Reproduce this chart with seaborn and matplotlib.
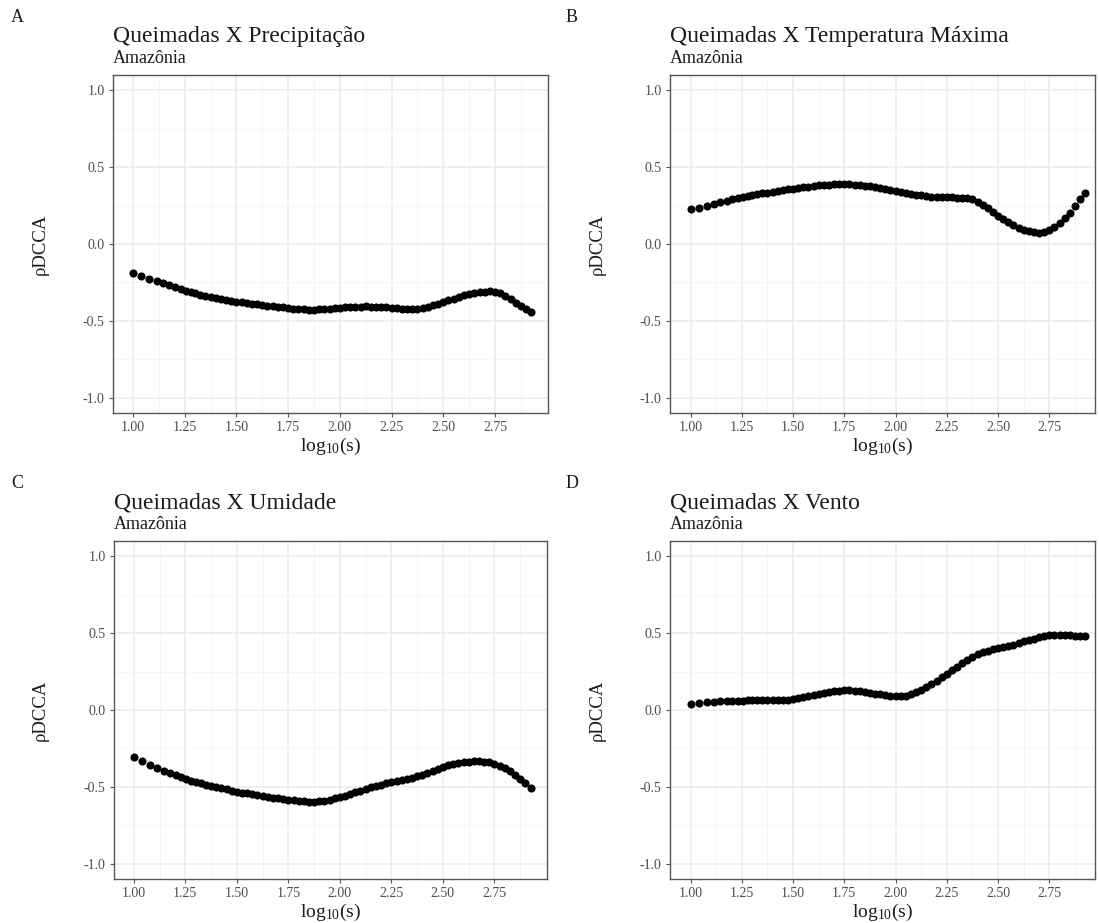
import numpy as np
import pandas as pd
import matplotlib
matplotlib.use("Agg")
import matplotlib.pyplot as plt
import seaborn as sns
from matplotlib.ticker import FixedLocator

# ---------------- data ----------------
LOG_S = [1.000, 1.041, 1.079, 1.114, 1.146, 1.176, 1.204, 1.230, 1.255, 1.279, 1.301,
         1.325, 1.350, 1.375, 1.400, 1.425, 1.450, 1.475, 1.500, 1.525, 1.550, 1.575,
         1.600, 1.625, 1.650, 1.675, 1.700, 1.725, 1.750, 1.775, 1.800, 1.825, 1.850,
         1.875, 1.900, 1.925, 1.950, 1.975, 2.000, 2.025, 2.050, 2.075, 2.100, 2.125,
         2.150, 2.175, 2.200, 2.225, 2.250, 2.275, 2.300, 2.325, 2.350, 2.375, 2.400,
         2.425, 2.450, 2.475, 2.500, 2.525, 2.550, 2.575, 2.600, 2.625, 2.650, 2.675,
         2.700, 2.725, 2.750, 2.775, 2.800, 2.825, 2.850, 2.875, 2.900, 2.925]

RHO_PRECIP = [-0.190, -0.210, -0.225, -0.240, -0.255, -0.270, -0.283, -0.295, -0.305, -0.314, -0.322,
              -0.330, -0.338, -0.346, -0.352, -0.358, -0.364, -0.370, -0.375, -0.380, -0.384, -0.389,
              -0.393, -0.397, -0.401, -0.405, -0.409, -0.413, -0.417, -0.420, -0.423, -0.425, -0.427,
              -0.427, -0.426, -0.424, -0.421, -0.418, -0.415, -0.412, -0.410, -0.408, -0.407, -0.406,
              -0.407, -0.408, -0.410, -0.412, -0.415, -0.418, -0.421, -0.423, -0.424, -0.422, -0.418,
              -0.410, -0.400, -0.390, -0.378, -0.366, -0.355, -0.345, -0.335, -0.327, -0.320, -0.315,
              -0.311, -0.309, -0.312, -0.322, -0.340, -0.360, -0.383, -0.405, -0.425, -0.445]

RHO_TMAX = [0.225, 0.236, 0.249, 0.261, 0.272, 0.283, 0.292, 0.300, 0.307, 0.313, 0.318,
            0.324, 0.329, 0.335, 0.340, 0.345, 0.350, 0.355, 0.360, 0.365, 0.369, 0.373,
            0.377, 0.381, 0.384, 0.387, 0.389, 0.390, 0.390, 0.389, 0.387, 0.384, 0.380,
            0.375, 0.369, 0.363, 0.357, 0.351, 0.345, 0.338, 0.332, 0.326, 0.320, 0.316,
            0.312, 0.309, 0.307, 0.305, 0.304, 0.303, 0.302, 0.300, 0.297, 0.290, 0.275,
            0.255, 0.232, 0.210, 0.185, 0.162, 0.140, 0.121, 0.105, 0.092, 0.082, 0.076,
            0.073, 0.076, 0.088, 0.108, 0.135, 0.168, 0.205, 0.245, 0.290, 0.335]

RHO_UMID = [-0.305, -0.330, -0.357, -0.377, -0.394, -0.410, -0.424, -0.437, -0.449, -0.460, -0.469,
            -0.478, -0.487, -0.495, -0.503, -0.510, -0.517, -0.524, -0.531, -0.537, -0.543, -0.549,
            -0.555, -0.560, -0.565, -0.570, -0.575, -0.580, -0.584, -0.588, -0.591, -0.594, -0.596,
            -0.596, -0.594, -0.590, -0.584, -0.576, -0.567, -0.557, -0.546, -0.535, -0.524, -0.513,
            -0.503, -0.494, -0.486, -0.478, -0.470, -0.462, -0.455, -0.448, -0.440, -0.431, -0.421,
            -0.409, -0.396, -0.383, -0.371, -0.360, -0.351, -0.344, -0.339, -0.336, -0.334, -0.334,
            -0.336, -0.341, -0.350, -0.363, -0.380, -0.400, -0.423, -0.448, -0.475, -0.510]

RHO_VENTO = [0.040, 0.047, 0.051, 0.054, 0.056, 0.058, 0.059, 0.060, 0.061, 0.062, 0.062,
             0.063, 0.063, 0.064, 0.064, 0.065, 0.066, 0.068, 0.071, 0.076, 0.082, 0.089,
             0.096, 0.103, 0.110, 0.117, 0.122, 0.126, 0.128, 0.128, 0.126, 0.122, 0.118,
             0.113, 0.107, 0.102, 0.097, 0.093, 0.091, 0.091, 0.094, 0.102, 0.114, 0.130,
             0.150, 0.172, 0.192, 0.213, 0.237, 0.261, 0.283, 0.305, 0.326, 0.345, 0.363,
             0.376, 0.386, 0.395, 0.402, 0.409, 0.417, 0.426, 0.436, 0.446, 0.456, 0.465,
             0.474, 0.482, 0.487, 0.490, 0.491, 0.490, 0.487, 0.484, 0.483, 0.484]

PANEL_LETTERS = ["A", "B", "C", "D"]
TITLES = ["Queimadas X Precipitação", "Queimadas X Temperatura Máxima",
          "Queimadas X Umidade", "Queimadas X Vento"]
SUBTITLE = "Amazônia"
X_TICKS = [1.00, 1.25, 1.50, 1.75, 2.00, 2.25, 2.50, 2.75]
X_MINOR = [1.125, 1.375, 1.625, 1.875, 2.125, 2.375, 2.625, 2.875]
Y_TICKS = [-1.0, -0.5, 0.0, 0.5, 1.0]
Y_MINOR = [-0.75, -0.25, 0.25, 0.75]

SERIES = [RHO_PRECIP, RHO_TMAX, RHO_UMID, RHO_VENTO]

# ---------------- style ----------------
sns.set_theme(style="white")
SERIF = ["Liberation Serif", "DejaVu Serif"]
plt.rcParams["font.family"] = SERIF
plt.rcParams["mathtext.fontset"] = "custom"
plt.rcParams["mathtext.rm"] = "Liberation Serif"
plt.rcParams["mathtext.it"] = "Liberation Serif"

W, H = 1099, 923
fig = plt.figure(figsize=(W / 100, H / 100), dpi=100)

# pixel boxes: (left, right, top, bottom) and xlim
BOXES = [(113, 548, 75, 413), (670, 1095, 75, 413),
         (114, 547, 541, 879), (670, 1095, 541, 879)]
XLIMS = [(0.9035, 3.006), (0.900, 2.973), (0.904, 3.005), (0.900, 2.973)]

GRID_MAJOR = "#EBEBEB"
GRID_MINOR = "#F4F4F4"
BORDER = "#555555"
TICKTXT = "#4D4D4D"
TXT = "#1A1A1A"

for i in range(4):
    l, r, t, b = BOXES[i]
    ax = fig.add_axes([l / W, 1 - b / H, (r - l) / W, (b - t) / H])
    df = pd.DataFrame({"log_s": LOG_S, "rho": SERIES[i]})
    sns.scatterplot(data=df, x="log_s", y="rho", ax=ax, color="black",
                    s=34, linewidth=0, zorder=3)
    ax.set_xlim(*XLIMS[i])
    ax.set_ylim(-1.1, 1.1)
    ax.xaxis.set_major_locator(FixedLocator(X_TICKS))
    ax.xaxis.set_minor_locator(FixedLocator(X_MINOR))
    ax.yaxis.set_major_locator(FixedLocator(Y_TICKS))
    ax.yaxis.set_minor_locator(FixedLocator(Y_MINOR))
    ax.set_xticklabels([f"{v:.2f}" for v in X_TICKS])
    ax.set_yticklabels([f"{v:.1f}" for v in Y_TICKS])
    ax.grid(True, which="major", color=GRID_MAJOR, linewidth=1.1, zorder=0)
    ax.grid(True, which="minor", color=GRID_MINOR, linewidth=0.6, zorder=0)
    ax.set_axisbelow(True)
    for sp in ax.spines.values():
        sp.set_visible(True)
        sp.set_color(BORDER)
        sp.set_linewidth(1.0)
    ax.tick_params(which="major", direction="out", length=3, width=0.8,
                   color=BORDER, labelsize=10, labelcolor=TICKTXT, pad=3,
                   bottom=True, left=True)
    ax.tick_params(which="minor", length=0)
    ax.set_xlabel("")
    ax.set_ylabel("")

    cx = (l + r) / 2 / W
    cy = 1 - (t + b) / 2 / H
    off = 0 if i < 2 else 466
    letter_x = 17 if i % 2 == 0 else 572
    fig.text(letter_x / W, 1 - (18 + off) / H, PANEL_LETTERS[i], ha="center", va="center",
             fontsize=13, color=TXT)
    fig.text(l / W, 1 - (42 + off) / H, TITLES[i], ha="left", va="baseline",
             fontsize=17, color=TXT)
    fig.text(l / W, 1 - (63 + off) / H, SUBTITLE, ha="left", va="baseline",
             fontsize=13, color=TXT)
    fig.text(cx, 1 - (446 + off) / H, r"$\mathrm{log_{10}(s)}$", ha="center", va="center",
             fontsize=14, color=TXT)
    ylx = 40 if i % 2 == 0 else 597
    fig.text(ylx / W, cy, "ρDCCA", ha="center", va="center", rotation=90,
             fontsize=13.5, color=TXT)

fig.savefig("out.png", dpi=100, facecolor="white")
